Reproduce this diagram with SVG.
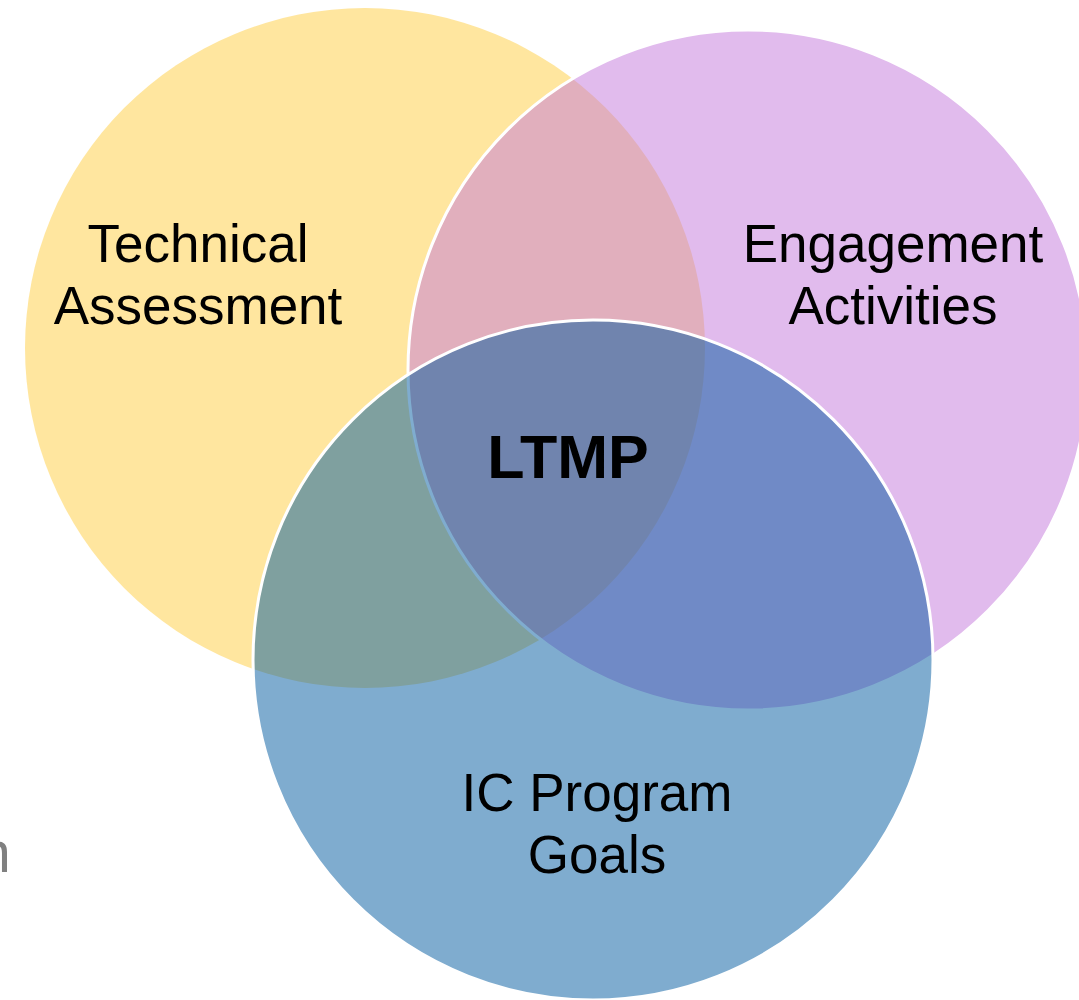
<svg xmlns="http://www.w3.org/2000/svg" width="1079" height="1000" viewBox="0 0 1079 1000">
  <style>
    .c { fill-opacity: 0.5; }
    .s { stroke: #FFFFFF; stroke-width: 3; }
    .lbl { font-family: "Liberation Sans", Arial, sans-serif; font-size: 53px; fill: #000000; text-anchor: middle; }
    .core { font-family: "Liberation Sans", Arial, sans-serif; font-size: 61px; font-weight: bold; fill: #000000; text-anchor: middle; }
  </style>
  <rect width="1079" height="1000" fill="#FFFFFF"/>
  <g id="technical-assessment">
    <circle class="c" cx="365" cy="348" r="340" fill="#FFCD3F"/>
  </g>
  <g id="engagement-activities">
    <circle class="c s" cx="748" cy="370" r="340" fill="#C377DB"/>
  </g>
  <g id="ic-program-goals">
    <circle class="c s" cx="593" cy="660" r="340" fill="#00599F"/>
  </g>
  <g id="labels">
    <text class="lbl" x="198" y="262">Technical</text>
    <text class="lbl" x="198" y="324">Assessment</text>
    <text class="lbl" x="893" y="262">Engagement</text>
    <text class="lbl" x="893" y="324">Activities</text>
    <text class="lbl" x="597" y="811">IC Program</text>
    <text class="lbl" x="597" y="873">Goals</text>
    <text id="ltmp" class="core" x="568" y="478">LTMP</text>
  </g>
  <text x="-21" y="872" font-family="Liberation Sans, Arial, sans-serif" font-size="57" fill="#808080">n</text>
</svg>
